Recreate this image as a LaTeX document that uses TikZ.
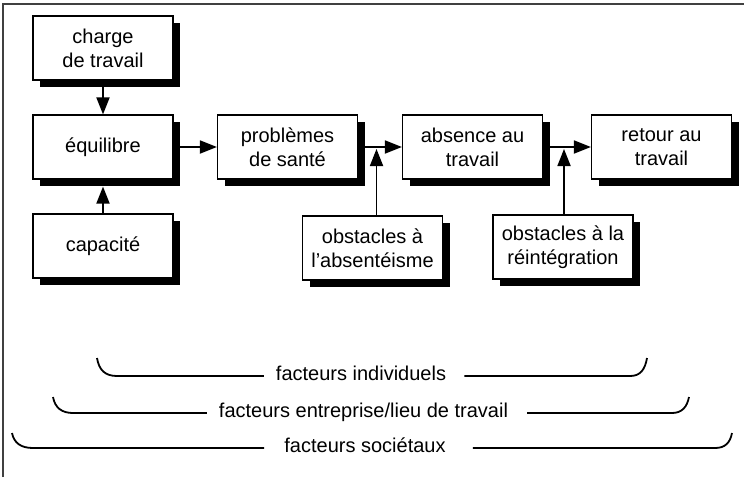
\documentclass[tikz,border=0pt]{standalone}
\usepackage{fontspec}
\setmainfont{Liberation Sans}
\usetikzlibrary{shadows,arrows.meta}

\begin{document}
\begin{tikzpicture}[x=1pt,y=-1pt,
  box/.style={draw,line width=1.2pt,fill=white,minimum width=140pt,minimum height=64pt,
    inner sep=0pt,align=center,font=\fontsize{20}{24}\selectfont,
    drop shadow={shadow xshift=7pt,shadow yshift=-7pt,fill=black,opacity=1}},
  arrowline/.style={line width=1.8pt,-{Triangle[length=17pt,width=13pt]}},
  brace/.style={line width=1.8pt},
  factor/.style={inner sep=0pt,text height=12pt,text depth=4pt,font=\fontsize{20}{24}\selectfont}]
\useasboundingbox (0,0) rectangle (744,477);
\draw[line width=1.3pt,black!75] (3,477) -- (3,4) -- (744,4);
\node[box] (charge) at (103,48) {charge\\de travail};
\node[box] (equilibre) at (103,147) {équilibre};
\node[box] (capacite) at (103,246) {capacité};
\node[box] (sante) at (287.5,147) {problèmes\\de santé};
\node[box] (absence) at (472.5,147) {absence au\\travail};
\node[box] (retour) at (661.5,147) {retour au\\travail};
\node[box] (obstabs) at (372.5,248) {obstacles à\\l’absentéisme};
\node[box] (obstrei) at (563,247) {obstacles à la\\réintégration};
\draw[arrowline] (charge.south) -- (equilibre.north);
\draw[arrowline] (capacite.north) -- ([yshift=-7pt]equilibre.south);
\draw[arrowline] (equilibre.east) -- (sante.west);
\draw[arrowline] (sante.east) -- (absence.west);
\draw[arrowline] (absence.east) -- (retour.west);
\draw[arrowline,shorten >=2pt] ([xshift=4pt]obstabs.north) -- ([xshift=4pt]obstabs.north |- sante.east);
\draw[arrowline,shorten >=2pt] ([xshift=1pt]obstrei.north) -- ([xshift=1pt]obstrei.north |- absence.east);
\node[factor] (indiv) at (361,376) {facteurs individuels};
\node[factor] (entreprise) at (363.5,413) {facteurs entreprise/lieu de travail};
\node[factor] (societe) at (365,448) {facteurs sociétaux};
\coordinate (indivL) at (97,358);
\coordinate (indivR) at (647,358);
\coordinate (entrepriseL) at (53,397);
\coordinate (entrepriseR) at (689,397);
\coordinate (societeL) at (12,433);
\coordinate (societeR) at (732,433);
\draw[brace] (indivL) .. controls (99,370) and (105,376) .. (117,376) -- ([xshift=-12pt]indiv.west);
\draw[brace] ([xshift=18pt]indiv.east) -- (630,376) .. controls (640,376) and (645,370) .. (indivR);
\draw[brace] (entrepriseL) .. controls (55,408) and (62,413) .. (73,413) -- ([xshift=-12pt]entreprise.west);
\draw[brace] ([xshift=19pt]entreprise.east) -- (672,413) .. controls (682,413) and (687,407) .. (entrepriseR);
\draw[brace] (societeL) .. controls (14,443) and (21,448) .. (33,448) -- ([xshift=-20pt]societe.west);
\draw[brace] ([xshift=27pt]societe.east) -- (715,448) .. controls (725,448) and (730,443) .. (societeR);
\end{tikzpicture}
\end{document}
